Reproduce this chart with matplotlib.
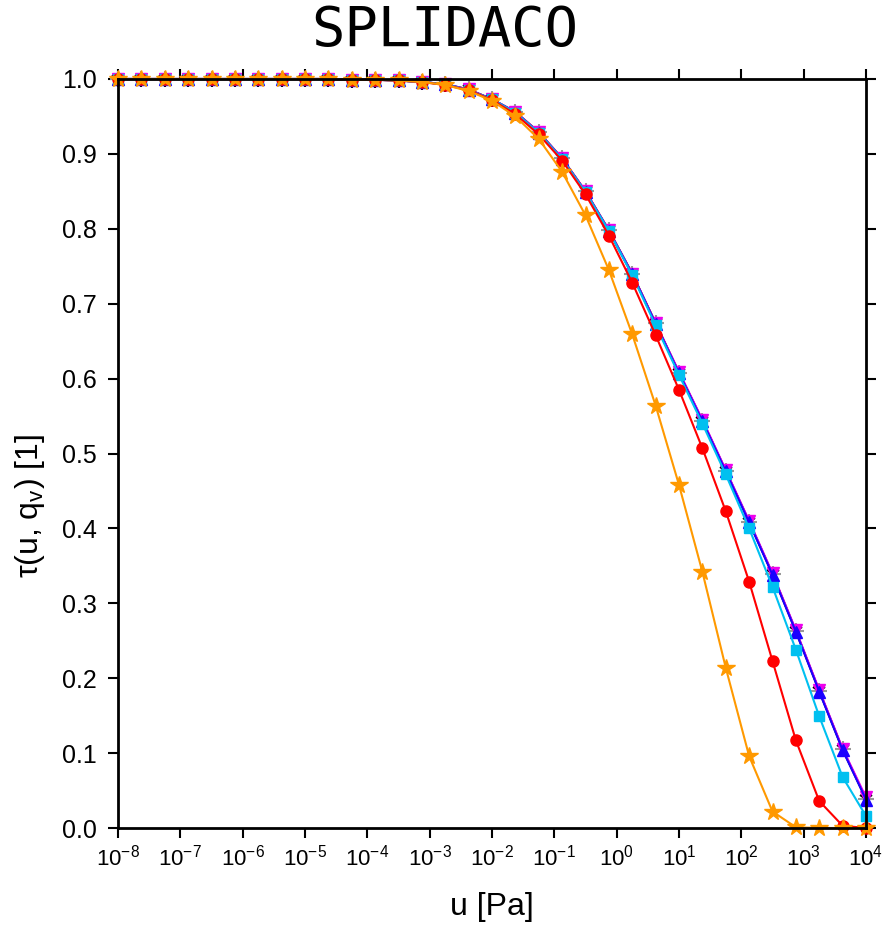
import numpy as np
import matplotlib.pyplot as plt

# pressure grid (33 points, 1e-8 .. 1e4)
u = np.logspace(-8, 4, 33)

# transmittance curves
tau_grey = [1.0, 1.0, 1.0, 1.0, 1.0, 1.0, 1.0, 1.0, 1.0, 1.0, 0.999, 0.999, 0.998, 0.996, 0.993,
            0.986, 0.973, 0.956, 0.929, 0.894, 0.850, 0.798, 0.740, 0.674, 0.608, 0.544, 0.477,
            0.409, 0.339, 0.263, 0.183, 0.105, 0.039]
tau_black = [1.0, 1.0, 1.0, 1.0, 1.0, 1.0, 1.0, 1.0, 1.0, 1.0, 0.999, 0.999, 0.998, 0.996, 0.993,
             0.986, 0.973, 0.956, 0.929, 0.894, 0.850, 0.798, 0.740, 0.674, 0.608, 0.544, 0.477,
             0.409, 0.339, 0.263, 0.183, 0.105, 0.039]
tau_magenta = [1.0, 1.0, 1.0, 1.0, 1.0, 1.0, 1.0, 1.0, 1.0, 1.0, 0.999, 0.999, 0.998, 0.996, 0.993,
               0.986, 0.973, 0.956, 0.929, 0.894, 0.850, 0.798, 0.740, 0.674, 0.609, 0.545, 0.478,
               0.410, 0.340, 0.264, 0.184, 0.106, 0.041]
tau_blue = [1.0, 1.0, 1.0, 1.0, 1.0, 1.0, 1.0, 1.0, 1.0, 1.0, 0.999, 0.999, 0.998, 0.996, 0.993,
            0.985, 0.973, 0.955, 0.928, 0.893, 0.849, 0.797, 0.739, 0.673, 0.607, 0.543, 0.476,
            0.408, 0.338, 0.262, 0.182, 0.104, 0.038]
tau_cyan = [1.0, 1.0, 1.0, 1.0, 1.0, 1.0, 1.0, 1.0, 1.0, 1.0, 0.999, 0.999, 0.998, 0.996, 0.993,
            0.985, 0.973, 0.955, 0.928, 0.893, 0.849, 0.797, 0.738, 0.671, 0.605, 0.540, 0.472,
            0.400, 0.322, 0.238, 0.149, 0.068, 0.016]
tau_red = [1.0, 1.0, 1.0, 1.0, 1.0, 1.0, 1.0, 1.0, 1.0, 1.0, 0.999, 0.999, 0.998, 0.996, 0.992,
           0.985, 0.972, 0.953, 0.926, 0.891, 0.846, 0.791, 0.728, 0.658, 0.585, 0.507, 0.423,
           0.329, 0.223, 0.117, 0.036, 0.003, 0.0]
tau_orange = [1.0, 1.0, 1.0, 1.0, 1.0, 1.0, 1.0, 1.0, 1.0, 1.0, 0.999, 0.999, 0.998, 0.996, 0.992,
              0.984, 0.971, 0.950, 0.920, 0.876, 0.818, 0.745, 0.659, 0.564, 0.458, 0.342, 0.214,
              0.096, 0.022, 0.001, 0.0, 0.0, 0.0]

plt.rcParams['font.family'] = ['Liberation Sans', 'DejaVu Sans']

fig = plt.figure(figsize=(8.9, 9.25), dpi=100)
ax = fig.add_axes([118 / 890, 1 - 828 / 925, 748 / 890, 749 / 925])

ax.plot(u, tau_grey, color='#999999', marker='+', ms=11, mew=1.5, lw=1.5, clip_on=False)
ax.plot(u, tau_black, color='black', marker='1', ms=11, mew=1.5, lw=1.5, clip_on=False)
ax.plot(u, tau_magenta, color='#ee00ee', marker='v', ms=9, lw=1.5, clip_on=False)
ax.plot(u, tau_blue, color='#1a00ff', marker='^', ms=9, lw=1.5, clip_on=False)
ax.plot(u, tau_cyan, color='#00c0f0', marker='s', ms=7, lw=1.5, clip_on=False)
ax.plot(u, tau_red, color='#ff0000', marker='o', ms=8, lw=1.5, clip_on=False)
ax.plot(u, tau_orange, color='#ff9900', marker='*', ms=13, lw=1.5, clip_on=False)

ax.set_xscale('log')
ax.set_xlim(1e-8, 1e4)
ax.set_ylim(0, 1)
ax.set_xticks(10.0 ** np.arange(-8, 5))
ax.xaxis.set_minor_locator(plt.NullLocator())
ax.set_yticks(np.arange(0, 1.01, 0.1))
ax.set_yticklabels([f'{v:.1f}' for v in np.arange(0, 1.01, 0.1)])

ax.tick_params(axis='both', which='major', direction='out', length=7, width=1.5,
               top=True, right=True, pad=5)
ax.tick_params(axis='x', labelsize=16)
ax.tick_params(axis='y', labelsize=18, pad=8)
for s in ax.spines.values():
    s.set_linewidth(2)

ax.set_xlabel('u [Pa]', fontsize=23)
ax.xaxis.set_label_coords(0.5, -0.085)
ax.set_ylabel('\u03c4(u, q$_\\mathregular{v}$) [1]', fontsize=23)
ax.yaxis.set_label_coords(-0.095, 0.43)
fig.text(0.5, 0.967, 'SPLIDACO', ha='center', va='center', fontsize=40,
         family=['DejaVu Sans Mono'])

fig.savefig('out.png', dpi=100)
